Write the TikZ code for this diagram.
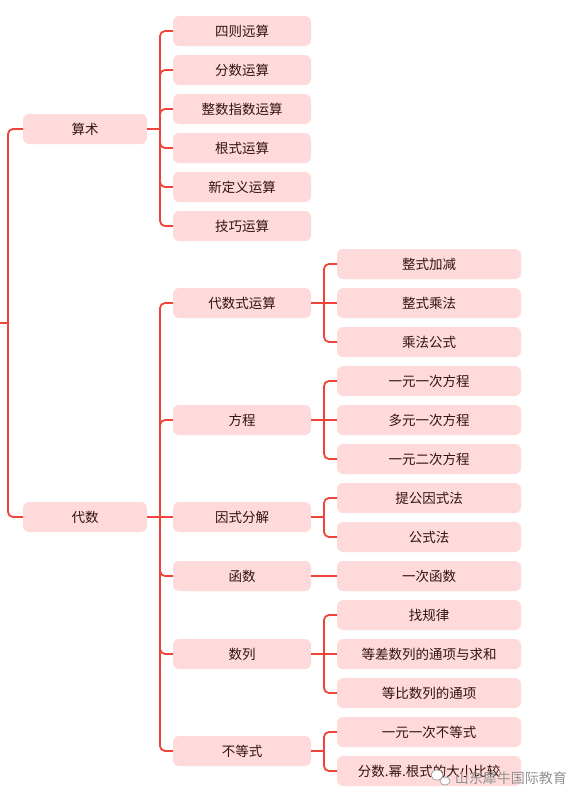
\documentclass[tikz,border=0pt]{standalone}
\usepackage{fontspec}
\newfontfamily\cjk{Noto Sans CJK SC}
\usetikzlibrary{positioning}
\definecolor{linered}{RGB}{240,68,58}
\definecolor{boxpink}{RGB}{255,218,218}
\definecolor{txtdark}{RGB}{50,18,18}

\begin{document}
\begin{tikzpicture}[x=1pt, y=-1pt, node distance=9pt, line width=1.8pt,
    box/.style={rectangle, rounded corners=6pt, fill=boxpink, text=txtdark, minimum height=30pt, inner sep=0pt, outer sep=0pt, font=\cjk\fontsize{13.5}{16}\selectfont},
    lvone/.style={box, minimum width=124pt},
    lvtwo/.style={box, minimum width=138pt},
    lvthree/.style={box, minimum width=184pt},
    link/.style={draw=linered, rounded corners=5pt}]
        \useasboundingbox (0,0) rectangle (586,801);

        \node[lvone] (suanshu) at (85,129) {算术};
        \node[lvone] (daishu) at (85,517) {代数};

        \node[lvtwo] (sizeys) at (242,31) {四则远算};
        \node[lvtwo] (fenshu) [below=of sizeys] {分数运算};
        \node[lvtwo] (zhengzhi) [below=of fenshu] {整数指数运算};
        \node[lvtwo] (genshi) [below=of zhengzhi] {根式运算};
        \node[lvtwo] (xindy) [below=of genshi] {新定义运算};
        \node[lvtwo] (jiqiao) [below=of xindy] {技巧运算};

        \node[lvthree] (zsjj) at (429,264) {整式加减};
        \node[lvthree] (zscf) [below=of zsjj] {整式乘法};
        \node[lvthree] (cfgs) [below=of zscf] {乘法公式};
        \node[lvthree] (yyyc) [below=of cfgs] {一元一次方程};
        \node[lvthree] (dyyc) [below=of yyyc] {多元一次方程};
        \node[lvthree] (yyec) [below=of dyyc] {一元二次方程};
        \node[lvthree] (tggs) [below=of yyec] {提公因式法};
        \node[lvthree] (gsf) [below=of tggs] {公式法};
        \node[lvthree] (ychs) [below=of gsf] {一次函数};
        \node[lvthree] (zgl) [below=of ychs] {找规律};
        \node[lvthree] (dcsl) [below=of zgl] {等差数列的通项与求和};
        \node[lvthree] (dbsl) [below=of dcsl] {等比数列的通项};
        \node[lvthree] (yybdd) [below=of dbsl] {一元一次不等式};
        \node[lvthree] (bjdx) [below=of yybdd] {分数.幂.根式的大小比较};

        \node[lvtwo] (dsys) at (sizeys |- zscf) {代数式运算};
        \node[lvtwo] (fangcheng) at (sizeys |- dyyc) {方程};
        \node[lvtwo] (yinshi) at (sizeys |- daishu) {因式分解};
        \node[lvtwo] (hanshu) at (sizeys |- ychs) {函数};
        \node[lvtwo] (shulie) at (sizeys |- dcsl) {数列};
        \node[lvtwo] (budeng) at (242,751) {不等式};

        % root branch
        \coordinate (root) at (0,323);
        \coordinate (rj) at (8,323);
        \draw[link] (root) -- (rj);
        \draw[link] (rj) |- (suanshu.west);
        \draw[link] (rj) |- (daishu.west);

        % suanshu
        \coordinate[right=13pt of suanshu.east] (sj);
        \draw[link] (suanshu.east) -- (sj);
        \draw[link] (sj) |- (sizeys.west);
        \draw[link] (sj) |- (fenshu.west);
        \draw[link] (sj) |- (zhengzhi.west);
        \draw[link] (sj) |- (genshi.west);
        \draw[link] (sj) |- (xindy.west);
        \draw[link] (sj) |- (jiqiao.west);

        % daishu
        \coordinate[right=13pt of daishu.east] (dj);
        \draw[link] (daishu.east) -- (dj);
        \draw[link] (dj) |- (dsys.west);
        \draw[link] (dj) |- (fangcheng.west);
        \draw[link] (dj) -- (yinshi.west);
        \draw[link] (dj) |- (hanshu.west);
        \draw[link] (dj) |- (shulie.west);
        \draw[link] (dj) |- (budeng.west);

        \coordinate[right=13pt of dsys.east] (dsj);
        \draw[link] (dsys.east) -- (dsj);
        \draw[link] (dsj) |- (zsjj.west);
        \draw[link] (dsj) -- (zscf.west);
        \draw[link] (dsj) |- (cfgs.west);

        \coordinate[right=13pt of fangcheng.east] (fcj);
        \draw[link] (fangcheng.east) -- (fcj);
        \draw[link] (fcj) |- (yyyc.west);
        \draw[link] (fcj) -- (dyyc.west);
        \draw[link] (fcj) |- (yyec.west);

        \coordinate[right=13pt of yinshi.east] (ysj);
        \draw[link] (yinshi.east) -- (ysj);
        \draw[link] (ysj) |- (tggs.west);
        \draw[link] (ysj) |- (gsf.west);

        \draw[link] (hanshu.east) -- (ychs.west);

        \coordinate[right=13pt of shulie.east] (slj);
        \draw[link] (shulie.east) -- (slj);
        \draw[link] (slj) |- (zgl.west);
        \draw[link] (slj) -- (dcsl.west);
        \draw[link] (slj) |- (dbsl.west);

        \coordinate[right=13pt of budeng.east] (bdj);
        \draw[link] (budeng.east) -- (bdj);
        \draw[link] (bdj) |- (yybdd.west);
        \draw[link] (bdj) |- (bjdx.west);

        % watermark
        \draw[gray!70, line width=0.8pt, fill=white] (437,775) ellipse (6pt and 5pt);
        \draw[gray!70, line width=0.8pt, fill=white] (445,781) ellipse (5pt and 4pt);
        \node[anchor=west, text=gray!85, font=\cjk\fontsize{14}{16}\selectfont, inner sep=0pt] (wmark) at (454,778) {山东犀牛国际教育};
    \end{tikzpicture}
\end{document}
